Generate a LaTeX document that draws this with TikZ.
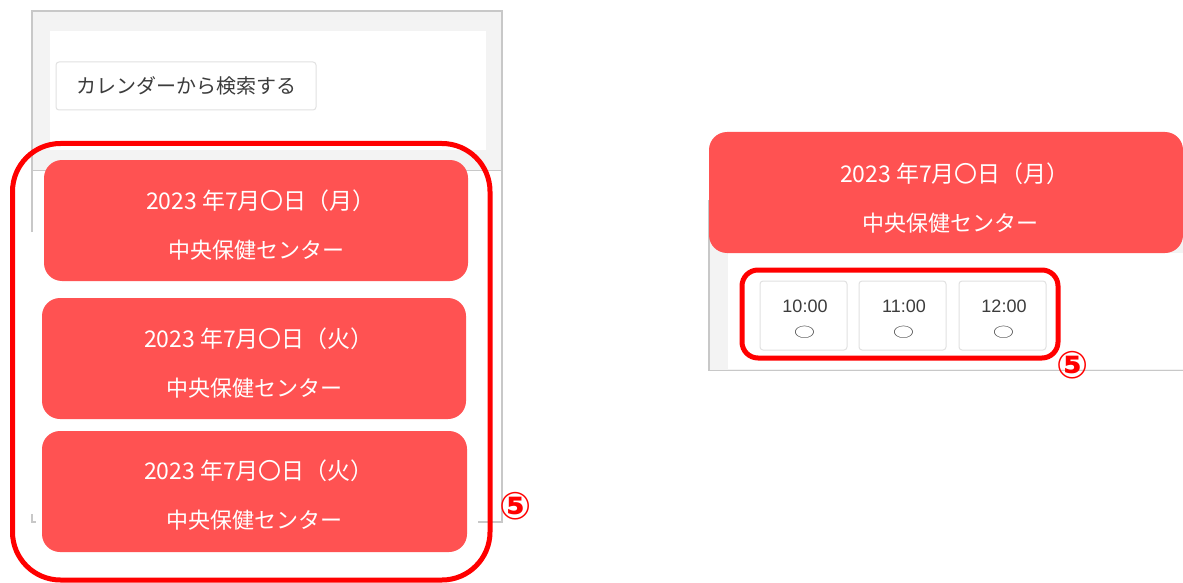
\documentclass[tikz,border=0pt]{standalone}
\usepackage{fontspec}
\newfontfamily\jp{Noto Sans CJK JP}
\newfontfamily\lat{Liberation Sans}
\newfontfamily\dv{DejaVu Sans}
\definecolor{cardred}{RGB}{255,82,82}
\definecolor{hlred}{RGB}{255,0,0}
\definecolor{framegray}{RGB}{200,200,200}
\definecolor{panelgray}{RGB}{243,243,243}
\definecolor{boxgray}{RGB}{225,225,225}
\definecolor{txtgray}{RGB}{60,60,60}
\tikzset{
  card/.style={fill=cardred, rounded corners=18pt, inner sep=0pt},
  datetext/.style={text=white, inner sep=0pt, font=\jp\fontsize{23}{26}\selectfont},
  placetext/.style={text=white, inner sep=0pt, font=\jp\fontsize{22}{26}\selectfont},
  hl/.style={draw=hlred, line width=5pt},
  timebox/.style={draw=boxgray, fill=white, rounded corners=3pt, line width=1pt, minimum width=87pt, minimum height=69pt, inner sep=0pt},
  timetext/.style={text=txtgray, inner sep=0pt, font=\lat\fontsize{18}{20}\selectfont},
  marktext/.style={text=txtgray, inner sep=0pt, font=\jp\fontsize{19}{20}\selectfont},
  num/.style={text=hlred, inner sep=0pt, font=\dv\bfseries\fontsize{38}{38}\selectfont},
  frame/.style={draw=framegray, line width=1.5pt}
}
\newcommand{\flatmark}{\scalebox{1.1}[0.72]{○}}
\begin{document}
\begin{tikzpicture}[x=1pt,y=-1pt]
\useasboundingbox[fill=white] (0,0) rectangle (1183,583);
% ---------- left panel ----------
\fill[panelgray] (32,11) rectangle (502,170);
\fill[white] (50,31) rectangle (486,150);
\draw[framegray, line width=0.6pt] (32,170) -- (502,170);
\draw[frame] (32,232) -- (32,11) -- (502,11) -- (502,522) -- (478,522);
\draw[frame] (32,514) -- (32,522) -- (36,522);
\node[draw=boxgray, fill=white, rounded corners=3pt, line width=1pt, minimum width=260pt, minimum height=48pt, inner sep=0pt,
      text=txtgray, font=\jp\fontsize{20}{22}\selectfont] (btn) at (186,86) {カレンダーから検索する};
% cards
\node[card, minimum width=424pt, minimum height=121pt] (c1) at (256,220.5) {};
\node[card, minimum width=424pt, minimum height=121pt] (c2) at (254,358.5) {};
\node[card, minimum width=425pt, minimum height=121pt] (c3) at (254.5,491.5) {};
\node[datetext] (c1a) at (261,201) {2023 年7月〇日（月）};
\node[placetext] (c1b) at (256,250) {中央保健センター};
\node[datetext] (c2a) at (259,339) {2023 年7月〇日（火）};
\node[placetext] (c2b) at (254,388) {中央保健センター};
\node[datetext] (c3a) at (259,471) {2023 年7月〇日（火）};
\node[placetext] (c3b) at (254,520) {中央保健センター};
% highlight
\draw[hl, rounded corners=48pt] (12.5,143.5) rectangle (490,580);
\node[num] (n1) at (515.5,506) {⑤};
% ---------- right panel ----------
\fill[panelgray] (709,200) rectangle (1183,370);
\fill[white] (728,253) rectangle (1183,369);
\draw[frame] (709,200) -- (709,370.5) -- (1183,370.5);
\node[card, minimum width=474pt, minimum height=121pt] (hdr) at (946,192.5) {};
\node[datetext] (ha) at (955,174) {2023 年7月〇日（月）};
\node[placetext] (hb) at (950,223) {中央保健センター};
\node[timebox] (t1) at (803.5,315.5) {};
\node[timebox] (t2) at (902.5,315.5) {};
\node[timebox] (t3) at (1002.5,315.5) {};
\node[timetext] (t1a) at (805,306) {10:00};
\node[timetext] (t2a) at (904,306) {11:00};
\node[timetext] (t3a) at (1004,306) {12:00};
\node[marktext] (t1b) at (804.5,332) {\flatmark};
\node[marktext] (t2b) at (903.5,332) {\flatmark};
\node[marktext] (t3b) at (1003.5,332) {\flatmark};
\draw[hl, rounded corners=16pt] (742,270) rectangle (1058,358);
\node[num] (n2) at (1073,365) {⑤};
\end{tikzpicture}
\end{document}
